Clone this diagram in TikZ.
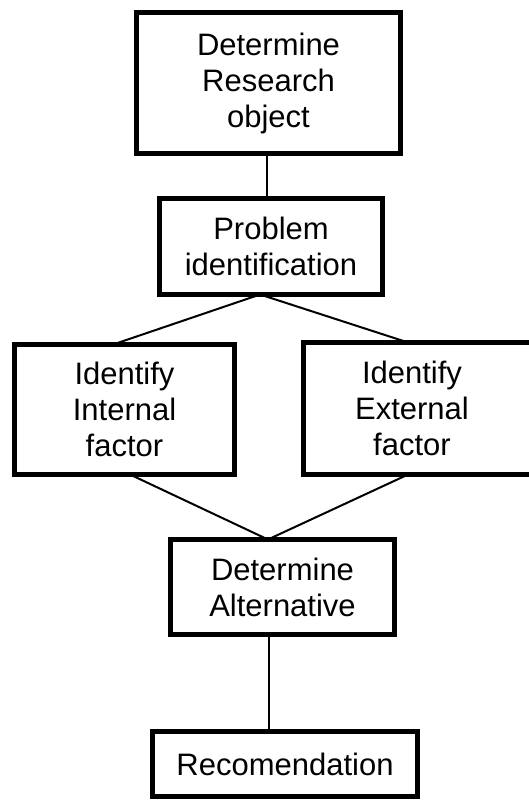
\documentclass[tikz,border=0pt]{standalone}
\usepackage{fontspec}
\setmainfont{Liberation Sans}
\usetikzlibrary{calc}
\begin{document}
\begin{tikzpicture}[x=1pt,y=-1pt,
  box/.style={draw, fill=white, line width=5pt, rectangle, inner sep=0pt, outer sep=0pt, align=center, font=\fontsize{31}{36}\selectfont},
  txt/.style={inner sep=0pt, align=center, font=\fontsize{31}{36}\selectfont},
  link/.style={line width=2pt}]
\useasboundingbox[fill=white] (0,0) rectangle (528,801);
% boxes (coordinates only, drawn after the connectors)
\path (268.5,83) coordinate (p1) (271,246.5) coordinate (p2) (124.5,409.5) coordinate (p3)
      (424.25,408.5) coordinate (p4) (282.5,587) coordinate (p5) (285,764) coordinate (p6);
\node[box, minimum width=264pt, minimum height=141pt] (b1) at (p1) {Determine\\Research\\object};
\node[box, minimum width=223pt, minimum height=96pt] (b2) at (p2) {Problem\\identification};
\node[box, minimum width=220pt, minimum height=130pt] (b3) at (p3) {Identify\\Internal\\factor};
\node[box, minimum width=241.5pt, minimum height=132pt] (b4) at (p4) {};
\node[txt] (b4t) at ([xshift=-12.25pt,yshift=0.5pt]b4.center) {Identify\\External\\factor};
\node[box, minimum width=224pt, minimum height=95pt] (b5) at (p5) {Determine\\Alternative};
\node[box, minimum width=265pt, minimum height=65pt] (b6) at (p6) {Recomendation};
% connectors
\begin{scope}[on background layer/.style={}]
\draw[link] ($(b1.south west)!0.494!(b1.south east)$) coordinate (c1) -- ([yshift=2.5pt]c1 |- b2.north);
\draw[link] ($(b2.south west)!0.451!(b2.south east)$) coordinate (c2)
  -- ($(b3.north west)!0.448!(b3.north east)$);
\draw[link] (c2) -- ($(b4.north west)!0.433!(b4.north east)$);
\draw[link] ($(b3.south west)!0.525!(b3.south east)$) -- ($(b5.north west)!0.435!(b5.north east)$) coordinate (c5);
\draw[link] ($(b4.south west)!0.433!(b4.south east)$) -- (c5);
\draw[link] ($(b5.south west)!0.44!(b5.south east)$) coordinate (c6) -- (c6 |- b6.north);
\end{scope}
\end{tikzpicture}
\end{document}
